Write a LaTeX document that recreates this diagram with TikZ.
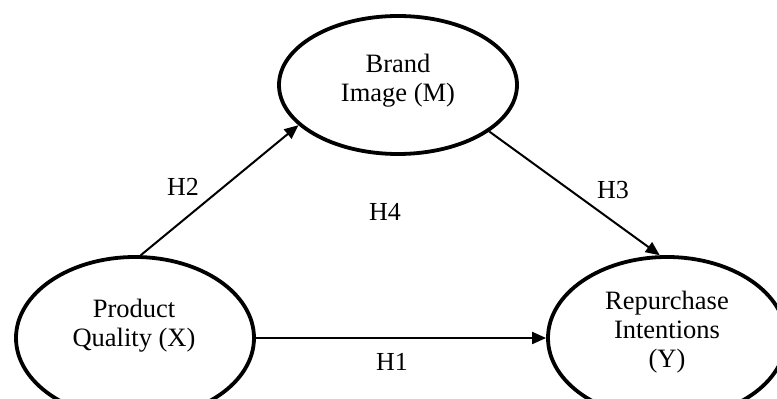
\documentclass[tikz,border=0pt]{standalone}
\usepackage{fontspec}
\setmainfont{Liberation Serif}
\usetikzlibrary{shapes.geometric,arrows.meta}
\tikzset{
  var/.style={ellipse, draw, line width=3.8pt, inner sep=0pt},
  path/.style={line width=2pt, -{Triangle[length=14pt,width=12pt]}},
  txt/.style={align=center, font=\fontsize{26.5}{29}\selectfont},
  hyp/.style={font=\fontsize{26}{29}\selectfont}
}
\begin{document}
\begin{tikzpicture}[x=1pt,y=1pt]
\useasboundingbox (0,0) rectangle (777,399);
\clip (0,0) rectangle (777,399);
\node[var, minimum width=238pt, minimum height=138pt] (bi) at (398,314) {};
\node[var, minimum width=238pt, minimum height=162pt] (pq) at (135,61) {};
\node[var, minimum width=238pt, minimum height=162pt] (ri) at (667,61) {};
\node[txt] (bit) at (398,318) {Brand\\Image (M)};
\node[txt] (pqt) at (134,73) {Product\\Quality (X)};
\node[txt] (rit) at (667,67) {Repurchase\\Intentions\\(Y)};
\draw[path] (pq.east) -- (ri.west);
\draw[path] (pq.86) -- (bi.202);
\draw[path] (bi.-27) -- (ri.95);
\node[hyp] (h1) at (392,37) {H1};
\node[hyp] (h2) at (183,212) {H2};
\node[hyp] (h3) at (613,209) {H3};
\node[hyp] (h4) at (385,187) {H4};
\end{tikzpicture}
\end{document}
